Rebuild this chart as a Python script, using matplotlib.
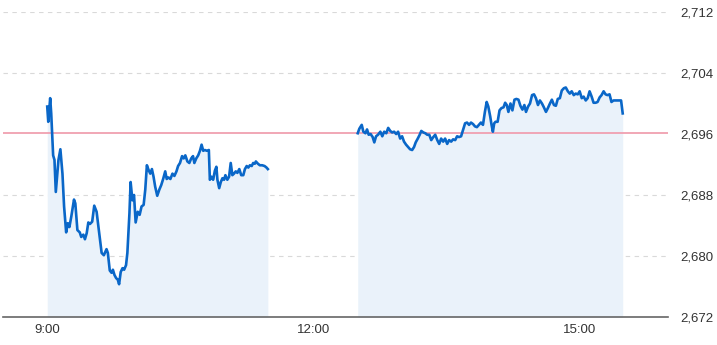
import numpy as np
import matplotlib
matplotlib.use("Agg")
import matplotlib.pyplot as plt

# morning session: minutes after 9:00 and price
am_min = [0, 0.7, 2.0, 2.7, 4.0, 4.9, 5.8, 7.6, 8.9, 10.3, 11.4, 12.8, 13.9, 15.0,
          16.3, 18.1, 19.0, 20.4, 22.0, 23.0, 24.4, 25.5, 26.7, 27.8, 28.9, 30.4,
          31.8, 33.4, 34.9, 36.8, 38.3, 40.1, 41.0, 42.3, 43.5, 44.4, 45.5, 46.6,
          47.7, 48.6, 49.7, 50.9, 52.0, 53.3, 54.2, 55.6, 56.4, 57.6, 58.7, 59.8,
          61.2, 62.5, 63.8, 65.2, 66.3, 67.4, 68.5, 69.7, 70.8, 71.9, 73.0, 74.4,
          75.8, 77.1, 78.4, 79.8, 80.8, 82.0, 83.3, 84.7, 86.0, 87.4, 88.5, 89.8,
          91.2, 92.3, 93.4, 94.8, 96.1, 97.4, 98.6, 99.5, 100.8, 102.1, 103.3,
          104.4, 105.5, 106.6, 108.0, 109.3, 110.0, 111.1, 112.2, 113.4, 114.4,
          115.1, 116.3, 117.4, 118.5, 119.6, 120.5, 121.8, 123.0, 124.1, 125.2,
          126.3, 127.5, 128.6, 129.9, 131.2, 132.6, 133.7, 134.9, 136.0, 137.1,
          138.3, 139.3, 140.4, 141.1, 142.5, 143.8, 145.4, 147.0, 148.3, 149.2]
am_px = [2699.6, 2697.6, 2700.7, 2698.7, 2693.2, 2692.6, 2688.4, 2692.6, 2694.0,
         2690.8, 2686.5, 2683.1, 2684.3, 2683.8, 2685.2, 2687.4, 2686.9, 2683.4,
         2683.1, 2682.5, 2682.8, 2682.2, 2683.0, 2684.4, 2684.2, 2684.5, 2686.6,
         2685.8, 2683.4, 2680.4, 2680.1, 2680.9, 2680.4, 2678.1, 2677.8, 2678.2,
         2677.5, 2677.1, 2676.9, 2676.3, 2677.9, 2678.4, 2678.2, 2678.8, 2680.4,
         2685.6, 2689.7, 2687.3, 2688.0, 2684.4, 2685.8, 2685.4, 2686.5, 2686.7,
         2688.7, 2691.9, 2691.3, 2690.8, 2691.4, 2690.4, 2689.1, 2687.9, 2688.7,
         2689.3, 2690.1, 2691.1, 2690.1, 2690.3, 2690.1, 2690.8, 2690.5, 2691.1,
         2691.8, 2692.2, 2693.1, 2692.8, 2693.2, 2692.4, 2692.2, 2692.8, 2693.1,
         2692.2, 2692.8, 2693.2, 2693.8, 2694.6, 2693.8, 2693.9, 2693.8, 2693.9,
         2690.0, 2690.4, 2690.0, 2691.2, 2691.7, 2690.0, 2688.9, 2689.7, 2690.2,
         2690.0, 2690.6, 2690.0, 2690.4, 2692.2, 2690.6, 2690.8, 2691.1, 2690.9,
         2691.4, 2690.6, 2690.6, 2691.4, 2691.8, 2691.6, 2691.9, 2691.8, 2692.2,
         2692.1, 2692.4, 2692.1, 2691.9, 2691.9, 2691.8, 2691.6, 2691.4]

# afternoon session: minutes after 12:30 and price
pm_min = [0, 1.1, 2.7, 3.8, 5.2, 6.3, 7.4, 8.7, 10.1, 11.2, 12.4, 13.7, 15.3, 16.6,
          17.9, 19.3, 20.6, 22.0, 23.3, 24.6, 26.0, 27.3, 28.7, 30.0, 31.3, 32.7,
          34.1, 35.4, 36.8, 38.1, 39.2, 40.6, 41.9, 43.0, 44.4, 45.7, 47.0, 48.4,
          49.7, 51.1, 52.4, 53.8, 55.1, 56.4, 57.8, 59.1, 60.5, 61.8, 63.2, 64.5,
          65.9, 67.2, 68.5, 69.9, 71.2, 72.6, 73.9, 75.3, 76.6, 78.0, 79.3, 80.6,
          82.0, 83.3, 84.7, 86.0, 87.2, 88.3, 89.6, 90.5, 91.4, 92.3, 93.2, 94.6,
          95.9, 97.2, 98.6, 99.7, 100.8, 101.9, 103.3, 104.6, 106.0, 107.3, 108.7,
          110.0, 111.4, 112.7, 113.8, 115.2, 116.5, 117.9, 119.2, 120.5, 121.9,
          123.2, 124.6, 125.9, 127.3, 128.6, 130.0, 131.3, 132.7, 134.0, 135.3,
          136.7, 138.0, 139.4, 140.7, 142.1, 143.4, 144.7, 146.1, 147.4, 148.8,
          150.1, 151.5, 152.8, 154.2, 155.5, 156.8, 158.2, 159.5, 160.9, 162.2,
          163.6, 164.9, 166.3, 167.6, 168.9, 170.3, 171.6, 173.0, 174.7, 176.5,
          178.1, 179.2]
pm_px = [2696.1, 2696.7, 2697.2, 2696.3, 2696.1, 2696.6, 2695.9, 2696.0, 2695.6,
         2694.9, 2695.7, 2695.9, 2696.3, 2695.7, 2696.3, 2696.1, 2696.8, 2696.4,
         2696.2, 2696.3, 2696.0, 2696.3, 2695.4, 2695.7, 2695.0, 2694.6, 2694.3,
         2694.0, 2693.9, 2694.3, 2694.9, 2695.4, 2695.9, 2696.4, 2696.2, 2696.1,
         2695.9, 2695.9, 2695.2, 2695.6, 2695.9, 2695.2, 2694.7, 2695.4, 2695.0,
         2695.4, 2694.7, 2695.2, 2695.0, 2695.3, 2695.2, 2695.7, 2695.6, 2695.7,
         2696.5, 2697.4, 2697.5, 2697.2, 2697.5, 2697.3, 2697.0, 2696.9, 2697.2,
         2697.5, 2697.2, 2698.9, 2700.2, 2699.6, 2698.3, 2697.2, 2696.3, 2697.4,
         2697.6, 2697.6, 2699.1, 2699.4, 2699.5, 2700.1, 2699.8, 2698.9, 2700.0,
         2699.1, 2700.5, 2700.6, 2700.5, 2699.7, 2699.2, 2699.8, 2698.9, 2699.6,
         2700.0, 2701.1, 2701.2, 2700.7, 2699.8, 2700.4, 2700.0, 2699.5, 2698.9,
         2699.4, 2700.0, 2700.5, 2699.8, 2699.7, 2700.6, 2700.7, 2701.7, 2702.0,
         2702.1, 2701.6, 2701.3, 2701.6, 2701.1, 2701.3, 2701.2, 2701.6, 2700.7,
         2700.9, 2700.4, 2700.7, 2701.6, 2700.9, 2700.1, 2700.1, 2700.2, 2700.8,
         2701.1, 2701.6, 2701.2, 2701.1, 2701.2, 2700.2, 2700.4, 2700.4, 2700.4,
         2700.4, 2698.7]

prev_close = 2696.1
y_ticks = [2672, 2680, 2688, 2696, 2704, 2712]
x_ticks = [9, 12, 15]
x_labels = ["9:00", "12:00", "15:00"]

line_col = "#0a67c8"
fill_col = "#eaf2fa"

fig = plt.figure(figsize=(7.17, 3.45), dpi=100)
ax = fig.add_axes([0.004, 28 / 345, 0.928, 1 - 28 / 345 - 12 / 345])

y0 = y_ticks[0]
for mins, px, start in [(am_min, am_px, 9.0), (pm_min, pm_px, 12.5)]:
    t = start + np.array(mins) / 60.0
    ax.fill_between(t, px, y0, color=fill_col, lw=0, zorder=1)
    ax.plot(t, px, color=line_col, lw=1.9, zorder=4, solid_joinstyle="round")

# dashed grid, the prev-close line sits on the 2,696 row
for v in y_ticks[1:]:
    if v == 2696:
        continue
    ax.axhline(v, color="#d9d9d9", lw=0.8, ls=(0, (4, 4)), zorder=0)
ax.axhline(prev_close, color="#f0a0b0", lw=1.3, zorder=3)

ax.set_xlim(8.5, 16.0)
ax.set_ylim(y0, y_ticks[-1])

for s in ["top", "left", "right"]:
    ax.spines[s].set_visible(False)
ax.spines["bottom"].set_color("#666666")
ax.spines["bottom"].set_linewidth(1.2)

ax.set_xticks(x_ticks)
ax.set_xticklabels(x_labels)
ax.yaxis.tick_right()
ax.set_yticks(y_ticks)
ax.set_yticklabels([f"{v:,}" for v in y_ticks])
ax.tick_params(axis="both", length=0, labelsize=9.5, labelcolor="#333333",
               labelfontfamily="Liberation Sans")
ax.tick_params(axis="x", pad=5)
ax.tick_params(axis="y", pad=9)

fig.savefig("out.png", dpi=100)
